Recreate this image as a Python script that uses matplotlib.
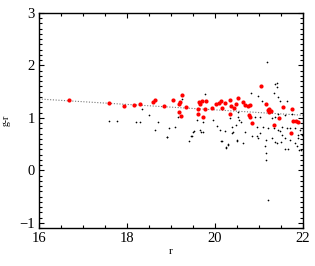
import matplotlib
matplotlib.use("Agg")
import matplotlib.pyplot as plt
from matplotlib.ticker import MultipleLocator

red_r = [16.68, 17.58, 17.93, 18.17, 18.30, 18.60, 18.64, 18.85, 19.05, 19.18,
         19.20, 19.24, 19.19, 19.23, 19.34, 19.62, 19.62, 19.64, 19.67, 19.70,
         19.77, 19.80, 19.72, 19.94, 20.02, 20.10, 20.14, 20.17, 20.23, 20.33,
         20.36, 20.43, 20.48, 20.52, 20.34, 20.64, 20.68, 20.74, 20.80, 20.77,
         20.80, 20.83, 21.05, 21.16, 21.20, 21.23, 21.27, 21.23, 21.33, 21.46,
         21.55, 21.76, 21.77, 21.84, 21.89, 21.73]
red_gr = [1.34, 1.28, 1.22, 1.24, 1.27, 1.30, 1.34, 1.22, 1.34, 1.27,
          1.30, 1.44, 1.12, 1.03, 1.20, 1.17, 1.07, 1.30, 1.27, 1.32,
          1.17, 1.32, 1.02, 1.19, 1.27, 1.28, 1.33, 1.19, 1.28, 1.34,
          1.22, 1.19, 1.27, 1.38, 1.08, 1.31, 1.25, 1.22, 1.24, 1.05,
          1.02, 0.91, 1.60, 1.27, 1.15, 1.17, 1.14, 1.11, 0.86, 1.00,
          1.20, 1.16, 0.94, 0.94, 0.93, 0.71]

blk_r = [17.58, 17.77, 18.33, 18.50, 18.20, 18.30, 18.70, 18.95, 19.09, 18.64,
         18.90, 19.17, 19.24, 19.77, 19.60, 19.73, 19.95, 19.50, 19.47, 19.67,
         19.72, 20.04, 20.11, 20.15, 20.25, 20.29, 20.34, 20.38, 20.42, 20.48,
         20.52, 20.55, 21.19, 21.36, 21.40, 21.42, 20.82, 20.98, 21.06, 21.35,
         21.44, 21.48, 21.63, 21.74, 21.59, 21.44, 21.36, 21.29, 21.02, 20.91,
         20.53, 20.60, 20.95, 21.10, 21.21, 21.33, 21.44, 21.52, 21.63, 21.70,
         21.82, 21.93, 20.68, 20.49, 20.83, 20.98, 21.17, 21.29, 21.40, 21.59,
         21.70, 21.89, 21.97, 21.14, 21.17, 21.86, 21.59, 21.15, 21.21, 21.65,
         21.95, 18.90, 19.40, 19.45, 19.53, 19.68, 20.23, 20.38, 20.13, 20.24,
         20.29, 20.49, 20.64, 20.95, 21.02, 21.36, 21.50, 21.82, 21.91, 21.89,
         21.52, 21.48]
blk_gr = [0.94, 0.94, 1.17, 1.05, 0.93, 0.93, 0.93, 0.80, 0.83, 0.77,
          0.63, 1.02, 1.36, 1.45, 0.96, 0.93, 0.96, 0.74, 0.65, 0.77,
          0.74, 0.85, 0.77, 0.55, 0.43, 0.49, 0.99, 0.83, 0.74, 0.86,
          1.11, 0.96, 2.06, 1.64, 1.66, 1.59, 1.48, 1.42, 1.33, 1.47,
          1.39, 1.33, 1.33, 1.08, 1.05, 1.08, 1.02, 0.99, 1.01, 1.02,
          1.02, 0.93, 0.83, 0.83, 0.80, 0.80, 0.77, 0.83, 0.80, 0.80,
          0.80, 0.77, 0.74, 0.58, 0.65, 0.62, 0.58, 0.62, 0.52, 0.62,
          0.58, 0.62, 0.68, 0.46, 0.33, 0.46, 0.40, 0.20, -0.56, 0.41,
          0.39, 0.64, 0.56, 0.66, 0.75, 0.73, 0.75, 0.72, 0.56, 0.44,
          0.50, 0.56, 0.52, 0.66, 0.72, 0.54, 0.54, 0.53, 0.39, 0.68,
          0.68, 0.75]

fit_r = [16.0, 22.0]
fit_gr = [1.36, 1.05]

x_ticks = [16, 18, 20, 22]
y_ticks = [-1, 0, 1, 2, 3]

plt.rcParams['font.family'] = ['Liberation Serif', 'DejaVu Serif']

fig = plt.figure(figsize=(3.15, 2.66), dpi=100)
ax = fig.add_axes([39/315, 38/266, 264/315, 215/266])

ax.plot(fit_r, fit_gr, linestyle=(0, (1, 1.5)), color='#777777', linewidth=0.8, zorder=1)
ax.scatter(blk_r, blk_gr, s=1.5, color='black', linewidths=0, zorder=2)
ax.scatter(red_r, red_gr, s=9, color='red', linewidths=0, zorder=3)

ax.set_xlim(16, 22)
ax.set_ylim(-1.1, 3)
ax.set_xticks(x_ticks)
ax.set_yticks(y_ticks)
ax.xaxis.set_minor_locator(MultipleLocator(0.5))
ax.yaxis.set_minor_locator(MultipleLocator(0.1))
ax.tick_params(which='both', direction='in', top=True, right=True, labelsize=10.5, pad=3, width=0.8)
ax.tick_params(which='major', length=3.5)
ax.tick_params(which='minor', length=2)
for sp in ax.spines.values():
    sp.set_linewidth(1.0)

ax.set_xlabel('r', fontsize=8, labelpad=1)
ax.set_ylabel('g-r', fontsize=7, labelpad=6)

fig.savefig('out.png', dpi=100)
